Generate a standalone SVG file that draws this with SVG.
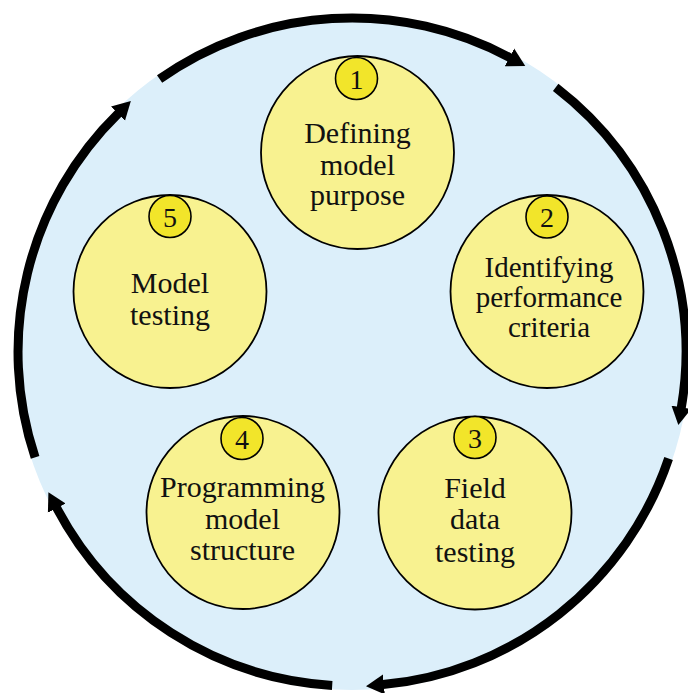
<svg xmlns="http://www.w3.org/2000/svg" width="688" height="693" viewBox="0 0 688 693">
<defs>
<style>
.bg{fill:#DCEFFA;stroke:none}
.node{fill:#F8F290;stroke:#000;stroke-width:1.8}
.badge{fill:#F2E52A;stroke:#000;stroke-width:1.6}
.lbl{font-family:"Liberation Serif","Times New Roman",serif;font-size:30px;fill:#111;text-anchor:middle}
.sm{font-size:29px}
.num{font-family:"Liberation Serif","Times New Roman",serif;font-size:28px;fill:#111;text-anchor:middle}
.arc{fill:none;stroke:#000;stroke-width:9;marker-end:url(#ah)}
</style>
<marker id="ah" markerUnits="userSpaceOnUse" viewBox="0 -11 19 22" refX="1" refY="0" markerWidth="19" markerHeight="22" orient="auto">
<path d="M0,-10 L18,0 L0,10 z" fill="#000"/>
</marker>
</defs>
<rect width="688" height="693" fill="#fff"/>
<circle class="bg" cx="352" cy="352" r="338"/>
<g id="connectors">
<path class="arc" d="M159.6,79.0 A334,334 0 0 1 510.3,57.9"/>
<path class="arc" d="M555.7,87.4 A334,334 0 0 1 681.2,408.3"/>
<path class="arc" d="M668.6,458.5 A334,334 0 0 1 382.9,684.6"/>
<path class="arc" d="M332.2,685.4 A334,334 0 0 1 56.3,507.2"/>
<path class="arc" d="M35.1,457.4 A334,334 0 0 1 118.7,113.0"/>
</g>
<g id="node1">
<circle class="node" cx="357.5" cy="152.5" r="96.5"/>
<circle class="badge" cx="356.5" cy="78.5" r="21"/>
<text class="num" x="356.5" y="88.5">1</text>
<text class="lbl" x="357.5" y="143">Defining</text>
<text class="lbl" x="357.5" y="175">model</text>
<text class="lbl" x="357.5" y="205">purpose</text>
</g>
<g id="node2">
<circle class="node" cx="547" cy="291.5" r="96.5"/>
<circle class="badge" cx="547" cy="217" r="21"/>
<text class="num" x="547" y="227">2</text>
<text class="lbl sm" x="549" y="277">Identifying</text>
<text class="lbl sm" x="549" y="307">performance</text>
<text class="lbl sm" x="549" y="337">criteria</text>
</g>
<g id="node3">
<circle class="node" cx="475" cy="513" r="96.5"/>
<circle class="badge" cx="475" cy="437.5" r="21"/>
<text class="num" x="475" y="447.5">3</text>
<text class="lbl" x="475" y="498">Field</text>
<text class="lbl" x="475" y="529">data</text>
<text class="lbl" x="475" y="562">testing</text>
</g>
<g id="node4">
<circle class="node" cx="243" cy="512.5" r="96.5"/>
<circle class="badge" cx="242" cy="438.5" r="21"/>
<text class="num" x="242" y="448.5">4</text>
<text class="lbl" x="242.5" y="497">Programming</text>
<text class="lbl" x="242.5" y="529">model</text>
<text class="lbl" x="242.5" y="560">structure</text>
</g>
<g id="node5">
<circle class="node" cx="170" cy="291.5" r="96.5"/>
<circle class="badge" cx="170" cy="216.5" r="21"/>
<text class="num" x="170" y="226.5">5</text>
<text class="lbl" x="170" y="293">Model</text>
<text class="lbl" x="170" y="325">testing</text>
</g>
</svg>
